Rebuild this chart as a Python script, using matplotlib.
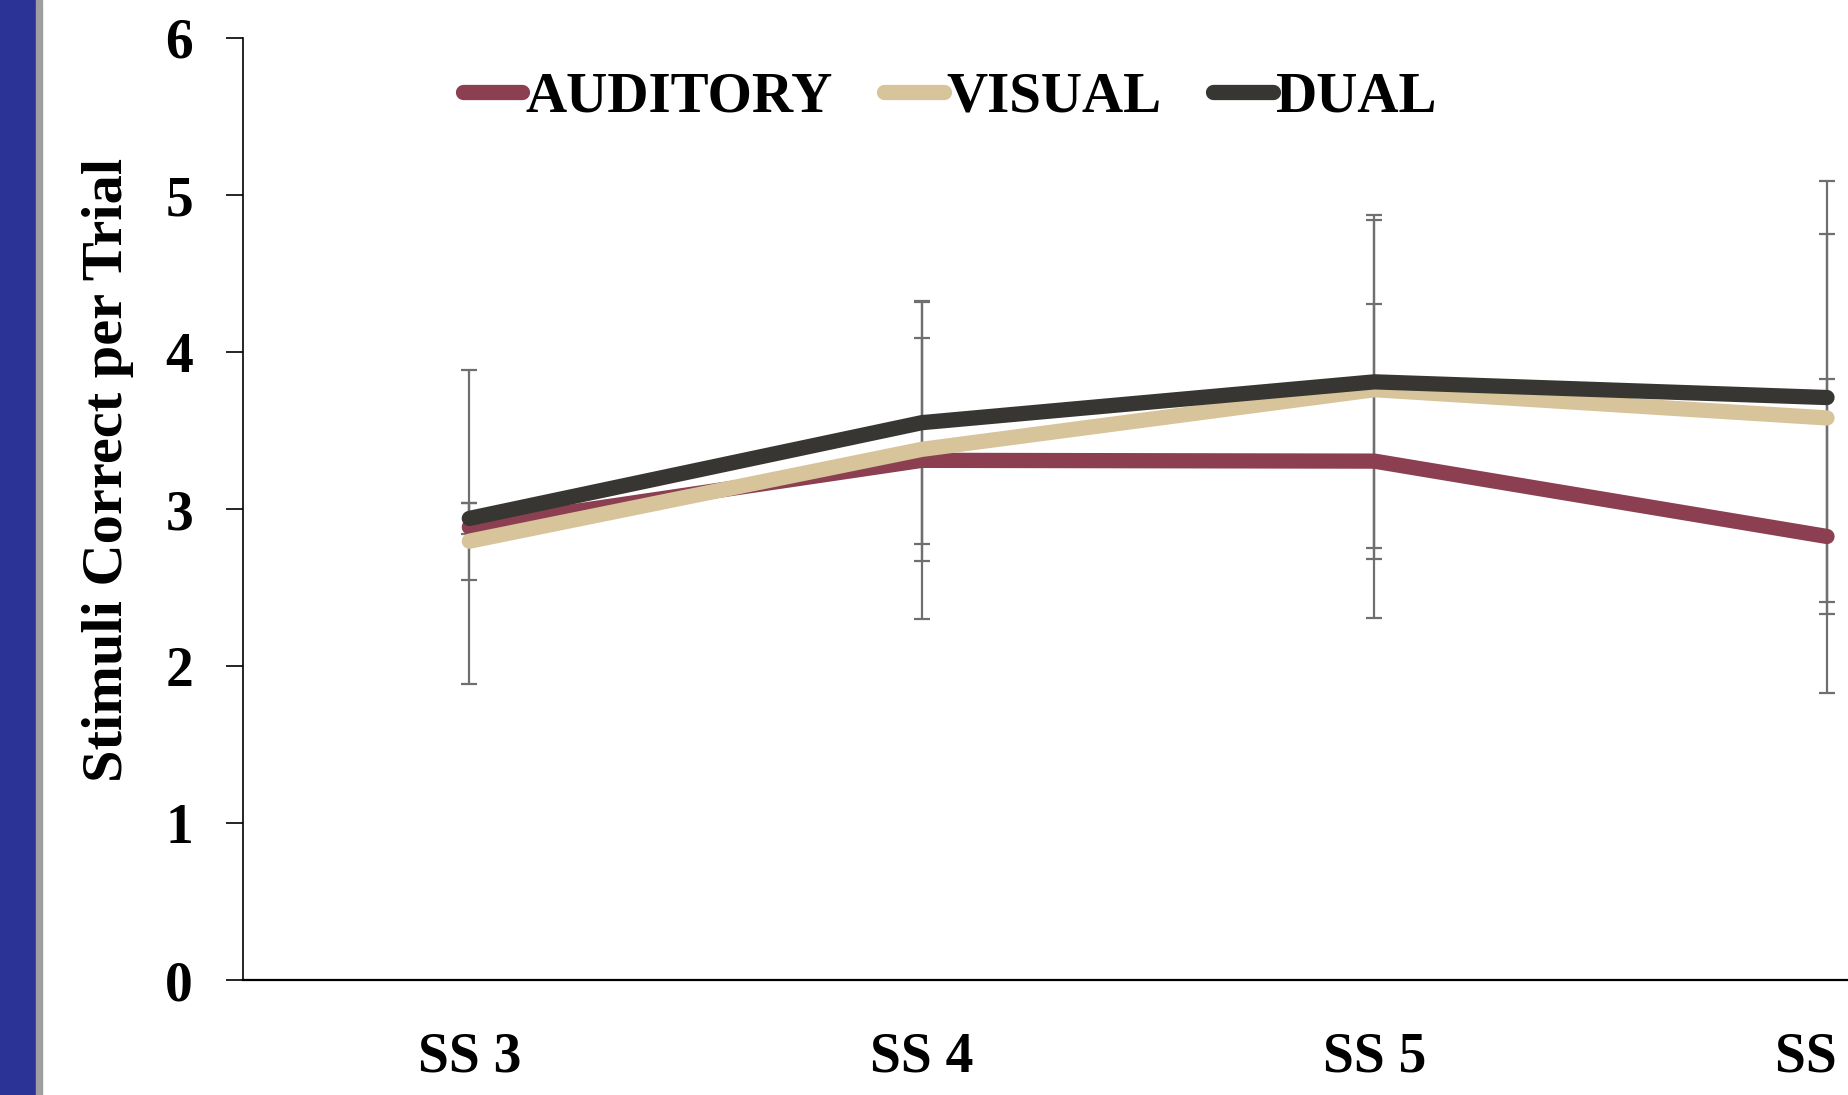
import matplotlib
matplotlib.use('Agg')
import matplotlib.pyplot as plt
from matplotlib.patches import Rectangle

# set sizes and mean stimuli correct per trial, with error half-widths
set_sizes = ['SS 3', 'SS 4', 'SS 5', 'SS 6']
auditory = [2.885, 3.31, 3.305, 2.825]
auditory_err = [1.0, 1.01, 1.0, 1.0]
visual = [2.795, 3.38, 3.76, 3.58]
visual_err = [0.245, 0.71, 1.08, 1.17]
dual = [2.94, 3.55, 3.81, 3.71]
dual_err = [0.10, 0.775, 1.06, 1.38]
y_ticks = [0, 1, 2, 3, 4, 5, 6]

series = [
	('AUDITORY', auditory, auditory_err, '#8B3F51'),
	('VISUAL', visual, visual_err, '#D8C49A'),
	('DUAL', dual, dual_err, '#383633'),
]

plt.rcParams['font.family'] = ['Liberation Serif', 'DejaVu Serif']
plt.rcParams['font.weight'] = 'bold'

fig = plt.figure(figsize=(18.48, 10.95), dpi=100)
# slide side bar
fig.patches.append(Rectangle((0, 0), 36 / 1848, 1, transform=fig.transFigure, color='#2C3396', zorder=0))
fig.patches.append(Rectangle((36 / 1848, 0), 6 / 1848, 1, transform=fig.transFigure, color='#9E9E9E', zorder=0))

ax = fig.add_axes([0.1315, 0.105, 0.9796, 0.8603])
x = list(range(len(set_sizes)))

for name, vals, errs, color in series:
	ax.errorbar(x, vals, yerr=errs, fmt='none', ecolor='#6F6F6F', elinewidth=1.6,
				capsize=6, capthick=1.6, zorder=2)
for name, vals, errs, color in series:
	ax.plot(x, vals, color=color, linewidth=11, solid_capstyle='round',
			solid_joinstyle='miter', label=name, zorder=3)

ax.set_xlim(-0.5, 3.5)
ax.set_ylim(0, 6)
ax.set_yticks(y_ticks)
ax.set_xticks(x)
ax.set_xticklabels(set_sizes)
ax.tick_params(axis='y', length=12, width=1.2, pad=24, labelsize=40)
ax.tick_params(axis='x', length=0, pad=37, labelsize=40)
for label in ax.get_xticklabels() + ax.get_yticklabels():
	label.set_fontweight('bold')
ax.spines['top'].set_visible(False)
ax.spines['right'].set_visible(False)
ax.spines['left'].set_linewidth(1.2)
ax.spines['bottom'].set_linewidth(1.6)

fig.text(0.0585, 0.571, 'Stimuli Correct per Trial', rotation=90, ha='center', va='center',
		 fontsize=42, fontweight='bold')

leg = ax.legend(loc='center', bbox_to_anchor=(0.514, 0.911), bbox_transform=fig.transFigure,
				ncol=3, frameon=False, fontsize=41, handlelength=1.05, handletextpad=0.05,
				columnspacing=0.9, borderaxespad=0)
for line in leg.get_lines():
	line.set_linewidth(11)
	line.set_solid_capstyle('round')

fig.savefig('out.png', dpi=100)
